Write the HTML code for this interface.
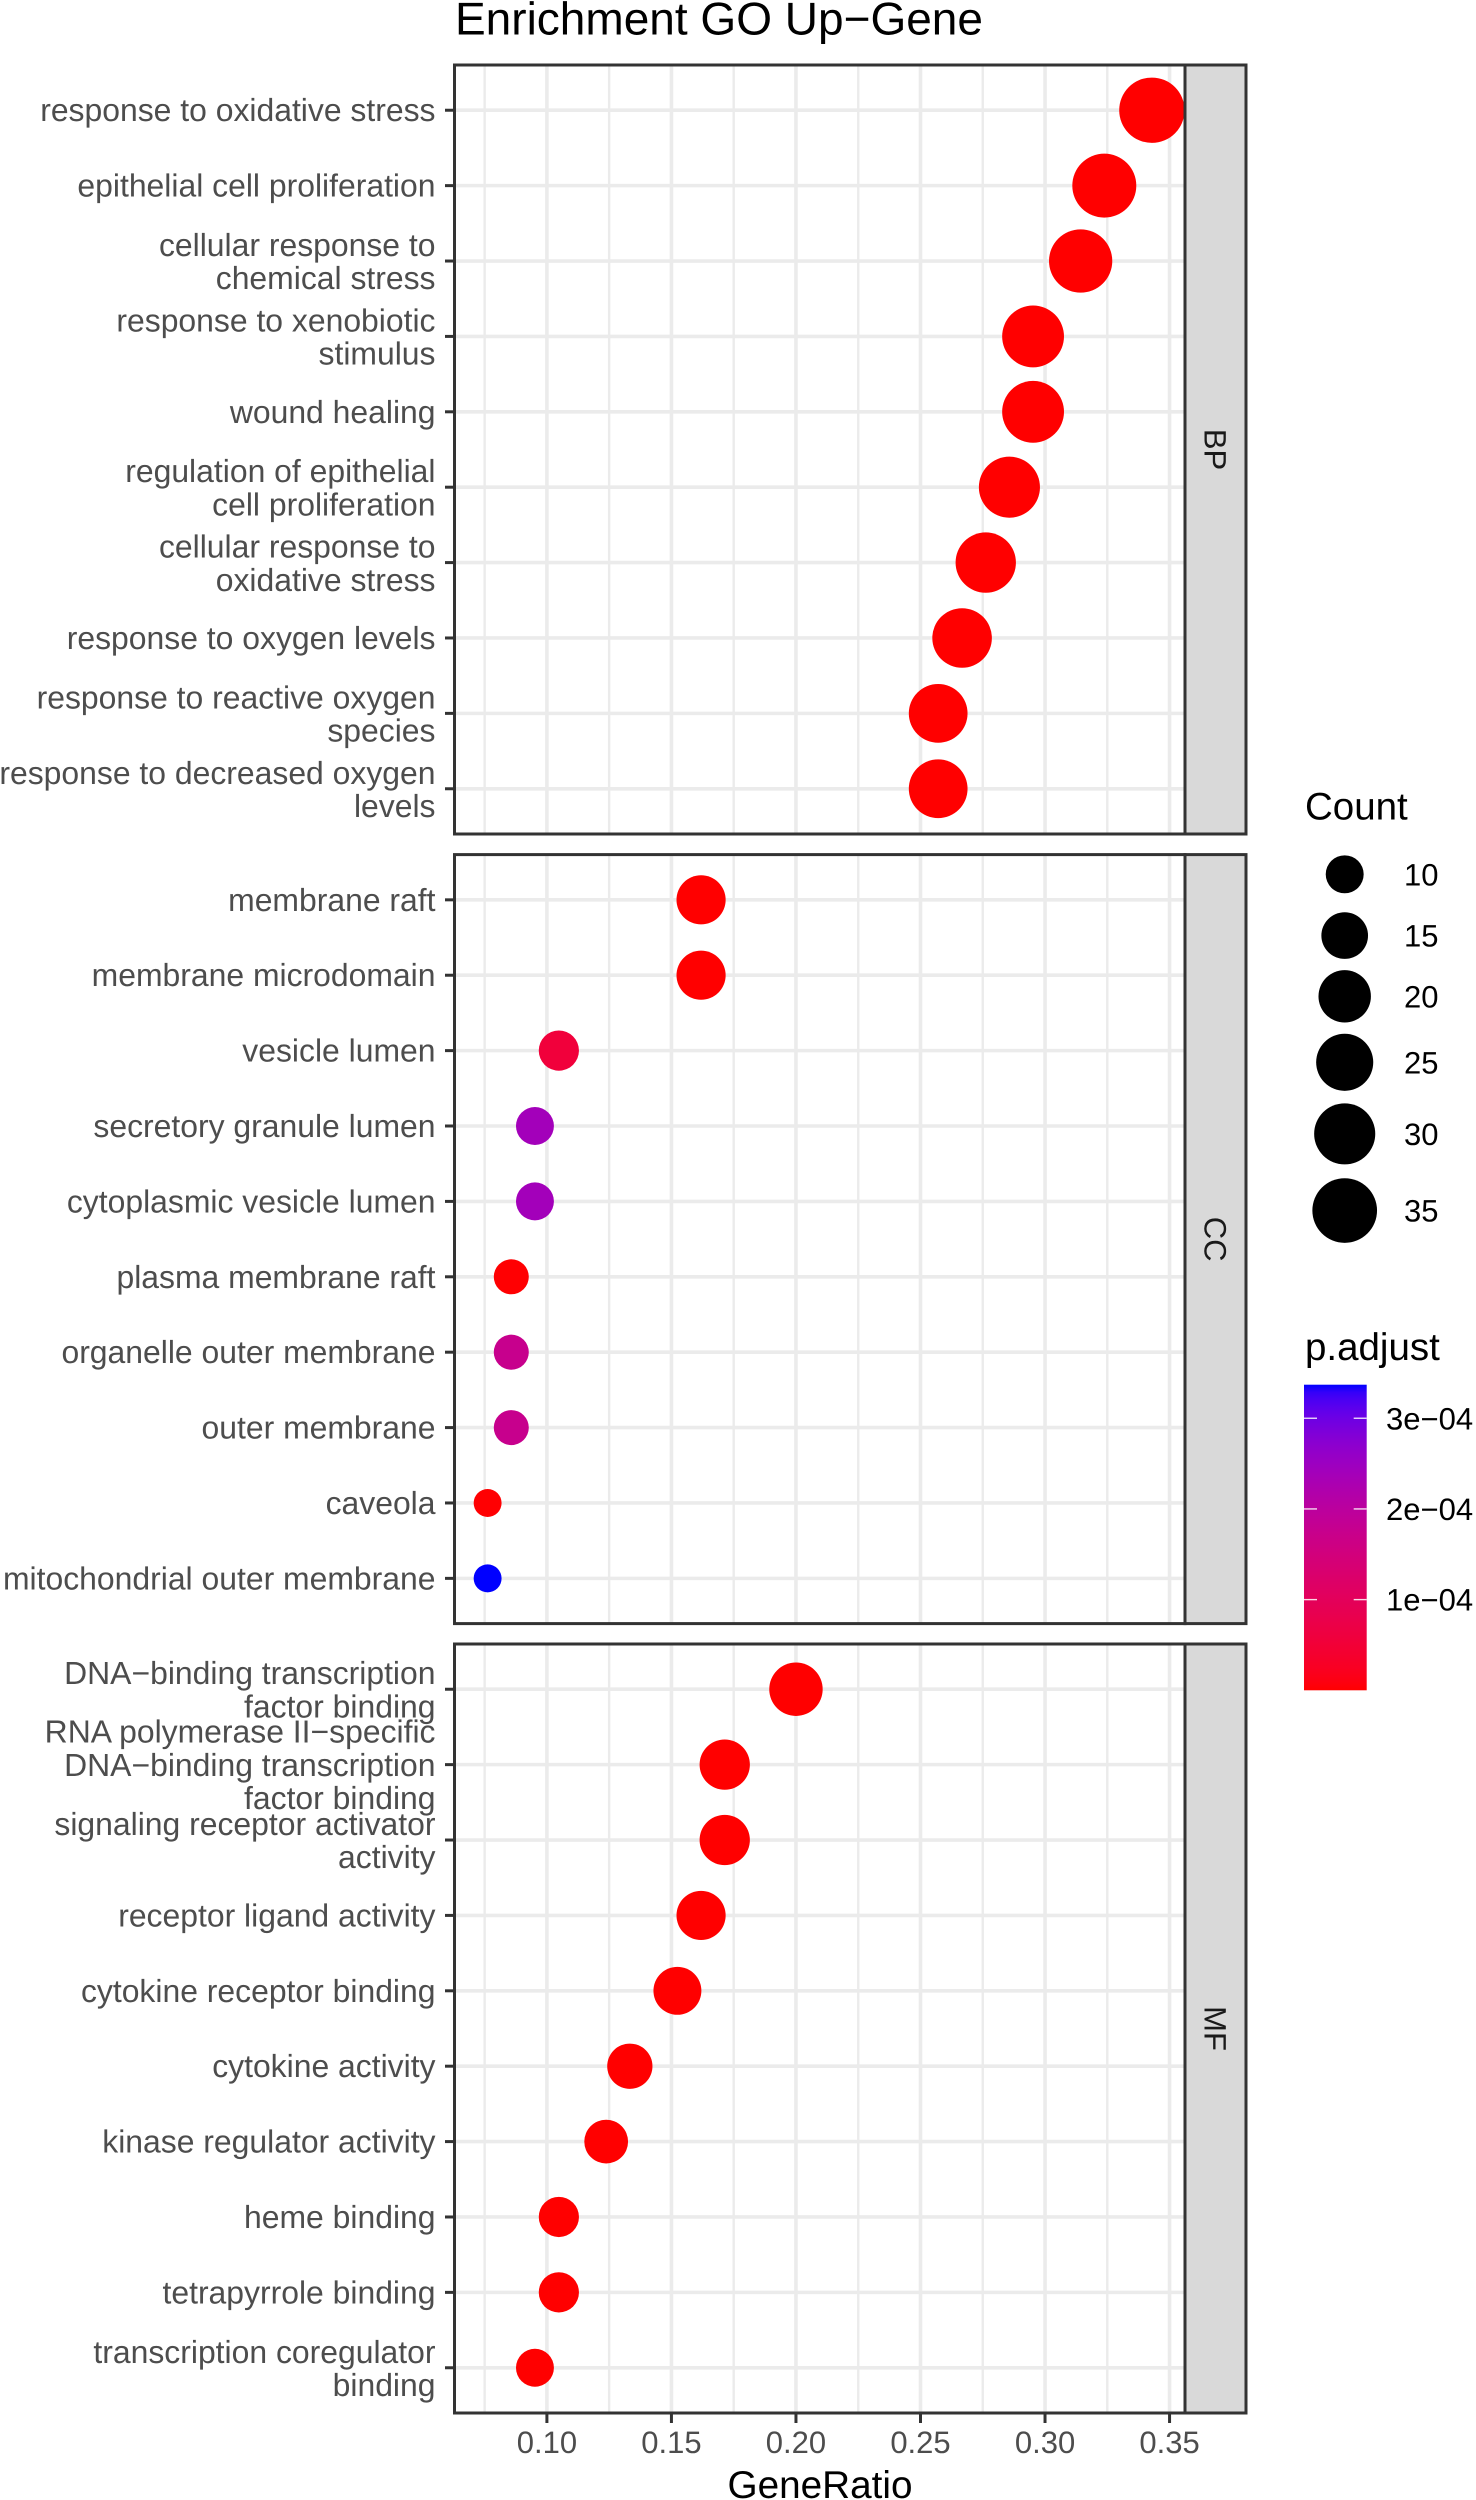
<!DOCTYPE html>
<html lang="en">
<head>
<meta charset="utf-8">
<title>Enrichment GO Up−Gene</title>
<style>
html,body{margin:0;padding:0;background:#fff;}
body{width:1476px;height:2500px;overflow:hidden;}
svg{display:block;}
text{font-family:"Liberation Sans",Arial,sans-serif;text-rendering:geometricPrecision;}
</style>
</head>
<body>
<svg id="chart" xmlns="http://www.w3.org/2000/svg" width="1476" height="2500" viewBox="0 0 1476 2500"></svg>
<script>
// ---- data ----
const bpTerms = ["response to oxidative stress","epithelial cell proliferation","cellular response to\nchemical stress","response to xenobiotic\nstimulus","wound healing","regulation of epithelial\ncell proliferation","cellular response to\noxidative stress","response to oxygen levels","response to reactive oxygen\nspecies","response to decreased oxygen\nlevels"];
const bpRatio = [0.3429,0.3238,0.3143,0.2952,0.2952,0.2857,0.2762,0.2667,0.2571,0.2571];
const bpCount = [36,34,33,31,31,30,29,28,27,27];
const bpPadjust = [1e-9,1e-9,1e-9,1e-9,1e-9,1e-9,1e-9,1e-9,1e-9,1e-9];

const ccTerms = ["membrane raft","membrane microdomain","vesicle lumen","secretory granule lumen","cytoplasmic vesicle lumen","plasma membrane raft","organelle outer membrane","outer membrane","caveola","mitochondrial outer membrane"];
const ccRatio = [0.1619,0.1619,0.1048,0.0952,0.0952,0.0857,0.0857,0.0857,0.0762,0.0762];
const ccCount = [17,17,11,10,10,9,9,9,8,8];
const ccPadjust = [1e-7,1e-7,0.55e-4,2.4e-4,2.4e-4,1e-6,1.75e-4,1.75e-4,1e-6,3.37e-4];

const mfTerms = ["DNA−binding transcription\nfactor binding","RNA polymerase II−specific\nDNA−binding transcription\nfactor binding","signaling receptor activator\nactivity","receptor ligand activity","cytokine receptor binding","cytokine activity","kinase regulator activity","heme binding","tetrapyrrole binding","transcription coregulator\nbinding"];
const mfRatio = [0.2,0.1714,0.1714,0.1619,0.1524,0.1333,0.1238,0.1048,0.1048,0.0952];
const mfCount = [21,18,18,17,16,14,13,11,11,10];
const mfPadjust = [1e-7,1e-7,1e-7,1e-7,1e-7,1e-7,1e-7,1e-7,1e-7,1e-7];

const facetNames = ["BP","CC","MF"];
const xMajorTicks = [0.10,0.15,0.20,0.25,0.30,0.35];
const xMinorTicks = [0.075,0.125,0.175,0.225,0.275,0.325];
const sizeBreaks = [10,15,20,25,30,35];
const colorBreaks = [1e-4,2e-4,3e-4];
const colorBreakLabels = ["1e−04","2e−04","3e−04"];

// ---- scales ----
const xDomain = [0.0629,0.3562], xRange = [454.5,1185];
function xScale(v){ return xRange[0]+(v-xDomain[0])/(xDomain[1]-xDomain[0])*(xRange[1]-xRange[0]); }
const countDomain = [8,36];
function sizeScale(c){
  const s = 3+5*Math.sqrt(Math.max(0,(c-countDomain[0])/(countDomain[1]-countDomain[0])));
  return 5.5+7.48*s; // diameter, px
}
const pDomain = [0,3.37e-4];
function srgbToLin(c){ c/=255; return c<=0.04045?c/12.92:Math.pow((c+0.055)/1.055,2.4); }
function linToSrgb(c){ const v=c<=0.0031308?12.92*c:1.055*Math.pow(c,1/2.4)-0.055; return Math.round(255*Math.min(1,Math.max(0,v))); }
function rgbToLab(rgb){
  const r=srgbToLin(rgb[0]),g=srgbToLin(rgb[1]),b=srgbToLin(rgb[2]);
  const X=(0.4124*r+0.3576*g+0.1805*b)/0.95047,Y=0.2126*r+0.7152*g+0.0722*b,Z=(0.0193*r+0.1192*g+0.9505*b)/1.08883;
  const f=t=>t>0.008856?Math.cbrt(t):7.787*t+16/116;
  return [116*f(Y)-16,500*(f(X)-f(Y)),200*(f(Y)-f(Z))];
}
function labToRgb(lab){
  const fy=(lab[0]+16)/116,fx=fy+lab[1]/500,fz=fy-lab[2]/200;
  const g=t=>t*t*t>0.008856?t*t*t:(t-16/116)/7.787;
  const X=g(fx)*0.95047,Y=g(fy),Z=g(fz)*1.08883;
  return [linToSrgb(3.2406*X-1.5372*Y-0.4986*Z),linToSrgb(-0.9689*X+1.8758*Y+0.0415*Z),linToSrgb(0.0557*X-0.2040*Y+1.0570*Z)];
}
const labRed = rgbToLab([255,0,0]), labBlue = rgbToLab([0,0,255]);
function colorAt(t){
  t=Math.min(1,Math.max(0,t));
  const c=labToRgb([0,1,2].map(i=>labRed[i]+(labBlue[i]-labRed[i])*t));
  return "rgb("+c.join(",")+")";
}
function colorScale(p){ return colorAt((p-pDomain[0])/(pDomain[1]-pDomain[0])); }

// ---- helpers ----
const NS = "http://www.w3.org/2000/svg";
const svg = document.getElementById("chart");
function mk(tag,attrs,parent){
  const e=document.createElementNS(NS,tag);
  for(const k in attrs) e.setAttribute(k,attrs[k]);
  (parent||svg).appendChild(e);
  return e;
}
function txt(str,x,y,size,fill,anchor,parent){
  const e=mk("text",{x:x,y:y,"font-size":size,fill:fill,"text-anchor":anchor||"start"},parent);
  e.textContent=str;
  return e;
}

// ---- layout constants ----
const panelLeft=454.5, panelRight=1185, stripRight=1246, panelH=769;
const panelTops=[65,854.6,1644];
const rowStep=panelH/10.2;
const facets=[
  {terms:bpTerms,ratio:bpRatio,count:bpCount,p:bpPadjust},
  {terms:ccTerms,ratio:ccRatio,count:ccCount,p:ccPadjust},
  {terms:mfTerms,ratio:mfRatio,count:mfCount,p:mfPadjust}
];

// ---- title ----
const titleEl=txt("Enrichment GO Up−Gene",455,34.5,46,"#000");



// ---- panels ----
facets.forEach(function(f,fi){
  const top=panelTops[fi];
  const g=mk("g",{});
  
  

  const bg=mk("rect",{x:panelLeft,y:top,width:panelRight-panelLeft,height:panelH,fill:"#fff"},g);
  
  

  xMinorTicks.forEach(function(v){
    const l=mk("line",{x1:xScale(v),x2:xScale(v),y1:top,y2:top+panelH,stroke:"#EBEBEB","stroke-width":2.4},g);
    
    
  });
  xMajorTicks.forEach(function(v){
    const l=mk("line",{x1:xScale(v),x2:xScale(v),y1:top,y2:top+panelH,stroke:"#EBEBEB","stroke-width":3.6},g);
    
    
  });
  f.terms.forEach(function(term,i){
    const y=top+rowStep*(0.6+i);
    const l=mk("line",{x1:panelLeft,x2:panelRight,y1:y,y2:y,stroke:"#EBEBEB","stroke-width":3.6},g);
    
    
  });
  f.terms.forEach(function(term,i){
    const y=top+rowStep*(0.6+i);
    const c=mk("circle",{cx:xScale(f.ratio[i]),cy:y,r:sizeScale(f.count[i])/2,fill:colorScale(f.p[i])},g);
    
    

    const t=mk("line",{x1:445,x2:panelLeft,y1:y,y2:y,stroke:"#333333","stroke-width":3},g);
    
    

    const lines=term.split("\n");
    const label=mk("text",{"font-size":31.9,fill:"#4D4D4D","text-anchor":"end"},g);
    
    
    const firstBase=lines.length===1?11:12-(lines.length-1)*17;
    lines.forEach(function(s,li){
      const sp=mk("tspan",{x:435.5,y:y+firstBase+li*33.2},label);
      sp.textContent=s;
    });
  });

  const strip=mk("rect",{x:panelRight,y:top,width:stripRight-panelRight,height:panelH,fill:"#D9D9D9",stroke:"#333333","stroke-width":3},g);
  
  

  const border=mk("rect",{x:panelLeft,y:top,width:panelRight-panelLeft,height:panelH,fill:"none",stroke:"#333333","stroke-width":3},g);
  
  

  const cy=top+panelH/2;
  const st=mk("text",{x:0,y:0,"font-size":31,fill:"#1A1A1A","text-anchor":"middle",transform:"translate(1204.5 "+cy+") rotate(90)"},g);
  
  
  st.textContent=facetNames[fi];
});

// ---- x axis ----
const axisBottom=panelTops[2]+panelH;
xMajorTicks.forEach(function(v){
  const t=mk("line",{x1:xScale(v),x2:xScale(v),y1:axisBottom,y2:axisBottom+10,stroke:"#333333","stroke-width":3});
  
  
  const l=txt(v.toFixed(2),xScale(v),2453,31,"#4D4D4D","middle");
  
  
});
const xTitle=txt("GeneRatio",820,2498,38.7,"#000","middle");



// ---- size legend ----
const sizeTitle=txt("Count",1305,819.5,38.5,"#000");


let legendY=874.3;
sizeBreaks.forEach(function(c,i){
  const d=sizeScale(c);
  if(i>0){ legendY+=(sizeScale(sizeBreaks[i-1])+d)/2+(i===1?19:11.2+Math.max(0,i-3)*1.3); }
  const k=mk("circle",{cx:1344.7,cy:legendY,r:d/2,fill:"#000"});
  
  
  const l=txt(String(c),1404,legendY+11,31,"#000");
  
  
});

// ---- colour legend ----
const colorTitle=txt("p.adjust",1305,1360,38.5,"#000");


const barTop=1384.7, barBottom=1690.3, barLeft=1304, barRight=1366.7;
function barY(p){ return barBottom-(p-pDomain[0])/(pDomain[1]-pDomain[0])*(barBottom-barTop); }
const defs=mk("defs",{});
const grad=mk("linearGradient",{id:"pgrad",x1:0,y1:1,x2:0,y2:0},defs);
for(let i=0;i<=40;i++){
  mk("stop",{offset:(i/40),"stop-color":colorAt(i/40)},grad);
}
const bar=mk("rect",{x:barLeft,y:barTop,width:barRight-barLeft,height:barBottom-barTop,fill:"url(#pgrad)"});


colorBreaks.forEach(function(p,i){
  const y=barY(p);
  const a=mk("line",{x1:barLeft,x2:barLeft+13,y1:y,y2:y,stroke:"#fff","stroke-width":1.4,"stroke-opacity":0.85});
  
  
  const b=mk("line",{x1:barRight-13,x2:barRight,y1:y,y2:y,stroke:"#fff","stroke-width":1.4,"stroke-opacity":0.85});
  
  
  const l=txt(colorBreakLabels[i],1386,y+11,31,"#000");
  
  
});
</script>
</body>
</html>
